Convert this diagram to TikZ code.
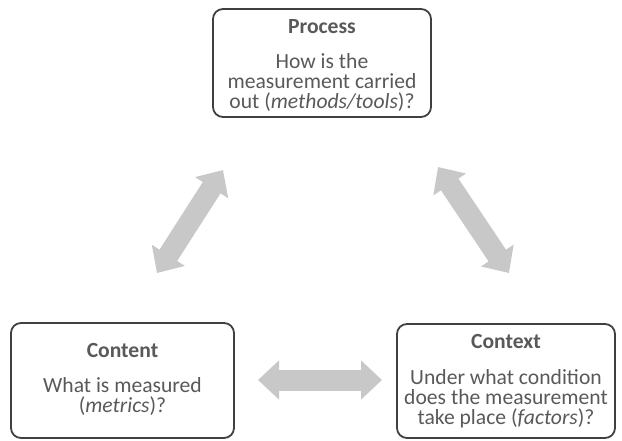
\documentclass[tikz,border=0pt]{standalone}
\usepackage{fontspec}
\setmainfont{Carlito}
\usetikzlibrary{arrows.meta}
\definecolor{boxline}{HTML}{404040}
\definecolor{txt}{HTML}{595959}
\definecolor{arrowgray}{HTML}{C8C8C8}
\begin{document}
\begin{tikzpicture}[x=1pt,y=1pt,
  box/.style={draw=boxline,line width=1.8pt,rounded corners=10pt},
  title/.style={anchor=base,text=txt,font=\fontsize{21.6}{20}\selectfont\bfseries,inner sep=0pt},
  body/.style={anchor=base,text=txt,align=center,font=\fontsize{21.6}{20}\selectfont,inner sep=0pt},
  link/.style={draw=arrowgray,line width=21pt,
    {Triangle[length=21pt,width=38pt]}-{Triangle[length=21pt,width=38pt]}}]
\useasboundingbox (0,0) rectangle (622,-440);
% the three boxes
\draw[box] (213,-9) rectangle (431,-117);
\draw[box] (11,-323) rectangle (234,-438);
\draw[box] (397,-324) rectangle (615,-438);
% texts (body nodes sit on the baseline of their last line)
\node[title] (ptitle) at (322,-33) {Process};
\node[body] (pbody) at (322,-108) {How is the\\measurement carried\\out (\textit{methods/tools})?};
\node[title] (ctitle) at (122.5,-357) {Content};
\node[body] (cbody) at (122.5,-412) {What is measured\\(\textit{metrics})?};
\node[title] (xtitle) at (506,-348) {Context};
\node[body] (xbody) at (506,-424) {Under what condition\\does the measurement\\take place (\textit{factors})?};
% arrow end points
\coordinate (a1) at (157,-273);
\coordinate (a2) at (223,-170);
\coordinate (b1) at (438,-167);
\coordinate (b2) at (509,-273);
\coordinate (c1) at (258,-380);
\coordinate (c2) at (382,-380);
\draw[link] (a1) -- (a2);
\draw[link] (b1) -- (b2);
\draw[link] (c1) -- (c2);
\end{tikzpicture}
\end{document}
